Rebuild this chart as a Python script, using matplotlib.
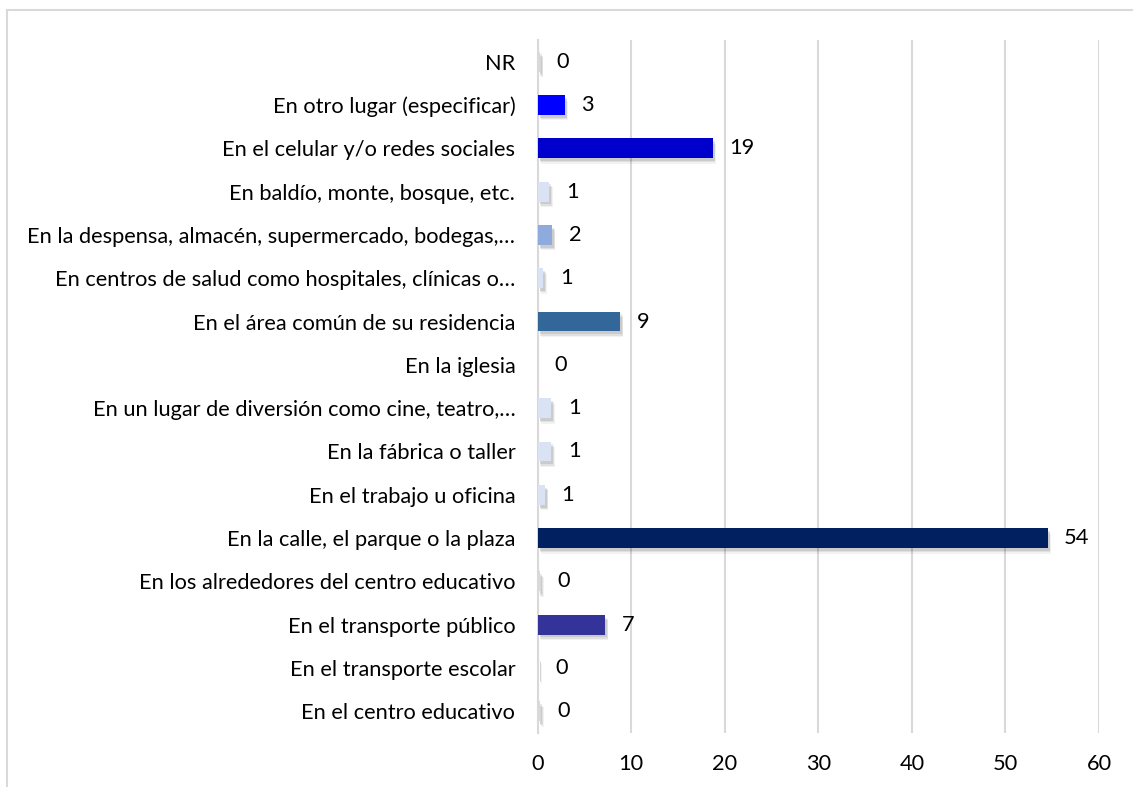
import matplotlib
matplotlib.use("Agg")
import matplotlib.pyplot as plt
import matplotlib.patheffects as pe
from matplotlib.lines import Line2D

categories = [
    "NR",
    "En otro lugar (especificar)",
    "En el celular y/o redes sociales",
    "En baldío, monte, bosque, etc.",
    "En la despensa, almacén, supermercado, bodegas,…",
    "En centros de salud como hospitales, clínicas o…",
    "En el área común de su residencia",
    "En la iglesia",
    "En un lugar de diversión como cine, teatro,…",
    "En la fábrica o taller",
    "En el trabajo u oficina",
    "En la calle, el parque o la plaza",
    "En los alrededores del centro educativo",
    "En el transporte público",
    "En el transporte escolar",
    "En el centro educativo",
]
values = [0.25, 2.9, 18.7, 1.25, 1.55, 0.6, 8.8, 0.0, 1.45, 1.45, 0.8, 54.5, 0.3, 7.2, 0.1, 0.3]
colors = ["#d9d9d9", "#0000ff", "#0000cc", "#dae3f3", "#8faadc", "#dae3f3", "#336699", "#dae3f3",
          "#dae3f3", "#dae3f3", "#dae3f3", "#002060", "#d9d9d9", "#333399", "#dae3f3", "#d9d9d9"]
xticks = [0, 10, 20, 30, 40, 50, 60]

plt.rcParams['font.family'] = ['Lato', 'DejaVu Sans']
FS = 15.7

fig = plt.figure(figsize=(11.33, 7.87), dpi=100)
ax = fig.add_axes([537.5/1133, 1-733/787, (1099-537.5)/1133, (733-40)/787])

n = len(categories)
ypos = list(range(n))[::-1]
bars = ax.barh(ypos, values, height=0.46, color=colors, zorder=3)
shadow = [
    pe.SimplePatchShadow(offset=(2.5, -4.0), shadow_rgbFace="#000000", alpha=0.05),
    pe.SimplePatchShadow(offset=(2.0, -3.0), shadow_rgbFace="#000000", alpha=0.07),
    pe.SimplePatchShadow(offset=(1.5, -2.0), shadow_rgbFace="#000000", alpha=0.09),
    pe.Normal(),
]
for b in bars:
    b.set_path_effects(shadow)

for y, v in zip(ypos, values):
    ax.annotate(f"{v:.0f}", xy=(v, y), xytext=(12, 0), textcoords="offset points",
                va="center", ha="left", fontsize=FS, color="#000000")

ax.set_xlim(0, 60)
ax.set_ylim(-0.5, n - 0.5)
ax.set_xticks(xticks)
ax.set_xticklabels([str(t) for t in xticks], fontsize=FS)
ax.set_yticks(ypos)
ax.set_yticklabels(categories, fontsize=FS)
ax.tick_params(axis="both", length=0)
ax.tick_params(axis="y", pad=16)
ax.tick_params(axis="x", pad=15)
ax.grid(axis="x", color="#d9d9d9", linewidth=1.5, zorder=0)
ax.set_axisbelow(True)
for s in ["top", "right", "bottom"]:
    ax.spines[s].set_visible(False)
ax.spines["left"].set_color("#d9d9d9")
ax.spines["left"].set_linewidth(1.5)
ax.spines["left"].set_zorder(1)

# chart border (top and left visible)
fig.add_artist(Line2D([7/1133, 7/1133], [0, 1-10/787], transform=fig.transFigure, color="#d9d9d9", lw=1.5))
fig.add_artist(Line2D([7/1133, 1], [1-10/787, 1-10/787], transform=fig.transFigure, color="#d9d9d9", lw=1.5))

fig.savefig("out.png", dpi=100)
